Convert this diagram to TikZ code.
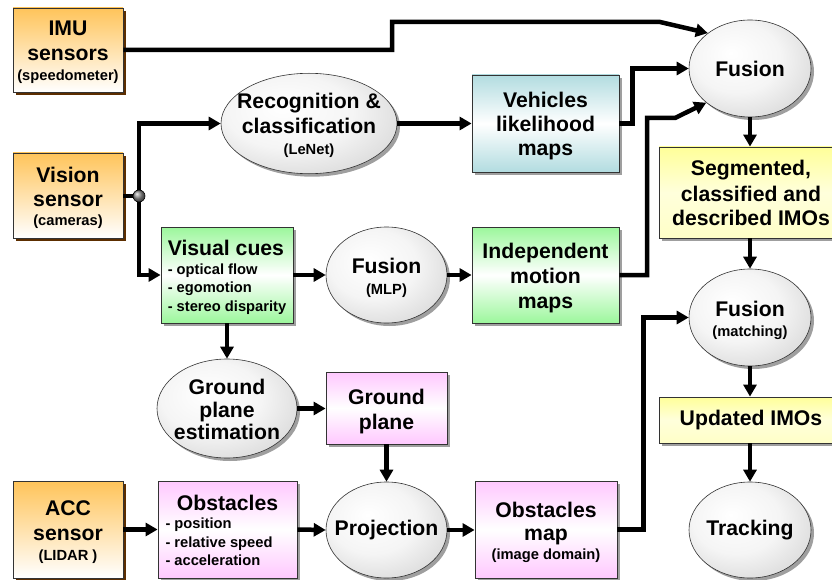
\documentclass[tikz,border=0pt]{standalone}
\usepackage{fontspec}
\setmainfont{Liberation Sans}
\usetikzlibrary{shapes.geometric,shadows,arrows.meta}
\definecolor{orng}{HTML}{FFC45A}
\definecolor{brn}{HTML}{5C2E00}
\definecolor{tealc}{HTML}{B2DCE0}
\definecolor{grnc}{HTML}{9CF79C}
\definecolor{pnkc}{HTML}{FFC8FF}
\definecolor{ylwc}{HTML}{FFFF99}
\definecolor{bordc}{HTML}{333333}
\pgfdeclareradialshading{ellsh}{\pgfpoint{-8bp}{8bp}}{%
  color(0bp)=(white); color(18bp)=(white!96!black); color(38bp)=(white!82!black);
  color(52bp)=(white!70!black); color(60bp)=(white!65!black)}
\newcommand\bigf{\fontsize{21.2}{25}\selectfont\bfseries}
\newcommand\smf{\fontsize{14.7}{18.5}\selectfont\bfseries}
\newcommand\zw[1]{\makebox[0pt]{#1}}
\newcommand\dn[1]{\raisebox{-3.5pt}[\height][\depth]{#1}}
\newcommand\tb[1]{\dn{\begin{tabular}{@{}c@{}}#1\end{tabular}}}
\tikzset{
  base/.style={draw=bordc, line width=0.8pt, inner sep=0pt, align=center, font=\bigf},
  gshadow/.style={drop shadow={shadow xshift=3pt,shadow yshift=-3pt,fill=gray!75,opacity=1}},
  sensor/.style={base, rectangle, top color=orng, bottom color=white,
     drop shadow={shadow xshift=3pt,shadow yshift=-3pt,fill=brn,opacity=1}},
  tealbox/.style={base, rectangle, gshadow, top color=tealc, bottom color=tealc, middle color=white},
  grnbox/.style={base, rectangle, gshadow, top color=grnc, bottom color=grnc, middle color=white},
  pnkbox/.style={base, rectangle, gshadow, top color=pnkc, bottom color=pnkc, middle color=white},
  ylwbox/.style={base, rectangle, gshadow, top color=ylwc, bottom color=ylwc!55, middle color=ylwc!35},
  ellnode/.style={base, ellipse, line width=0.6pt, gshadow, shading=ellsh},
  arr/.style={line width=4.5pt, -{Triangle[length=12pt,width=13pt]}},
  conn/.style={line width=4.5pt},
}
\begin{document}
\begin{tikzpicture}[x=1pt,y=-1pt]
\useasboundingbox (0,0) rectangle (832,580);

% sensors
\node[sensor, minimum width=110pt, minimum height=84pt] (imu) at (68,50)
  {\tb{IMU\\ sensors\\[-5pt] \smf (speedometer)}};
\node[sensor, minimum width=110pt, minimum height=85pt] (vis) at (68,195.5)
  {\tb{Vision\\ sensor\\[-6pt] \smf (cameras)}};
\node[sensor, minimum width=110pt, minimum height=97pt] (acc) at (68,529.5)
  {\tb{ACC\\ sensor\\[-5pt] \smf (LIDAR )}};

% upper row
\node[ellnode, minimum width=176pt, minimum height=97pt] (rec) at (309,123.5)
  {\zw{\tb{Recognition \&\\ classification\\[-4pt] \smf (LeNet)}}};
\node[tealbox, minimum width=147pt, minimum height=97pt] (veh) at (545.5,123.5)
  {\tb{Vehicles\\[-1pt] likelihood\\[-1pt] maps}};
\node[ellnode, minimum width=122pt, minimum height=97pt] (fus1) at (750,68.5)
  {\zw{Fusion}};
\node[ylwbox, minimum width=184pt, minimum height=91pt] (seg) at (751,192.5)
  {\tb{Segmented,\\ classified and\\ described IMOs}};

% middle row
\node[grnbox, minimum width=132pt, minimum height=96pt] (vc) at (227,275)
  {\smf\dn{\begin{tabular}{@{}l@{}}\bigf Visual cues\\ - optical flow\\ - egomotion\\ - stereo disparity\end{tabular}}};
\node[ellnode, minimum width=121pt, minimum height=96pt] (mlp) at (386.5,275)
  {\zw{\tb{Fusion\\[-4pt] \smf (MLP)}}};
\node[grnbox, minimum width=147pt, minimum height=96pt] (ind) at (545.5,275)
  {\tb{Independent\\ motion\\ maps}};
\node[ellnode, minimum width=122pt, minimum height=97pt] (fm) at (750,317.5)
  {\zw{\tb{Fusion\\[-5pt] \smf (matching)}}};

% lower rows
\node[ellnode, minimum width=140pt, minimum height=97pt] (gpe) at (227,408.5)
  {\zw{\tb{Ground\\[-2.5pt] plane\\[-2.5pt] estimation}}};
\node[pnkbox, minimum width=121pt, minimum height=72pt] (gp) at (386.5,408)
  {\tb{Ground\\ plane}};
\node[ylwbox, minimum width=184pt, minimum height=46pt] (upd) at (751,420)
  {Updated IMOs};
\node[pnkbox, minimum width=139pt, minimum height=97pt] (obs) at (227.5,529.5)
  {\smf\dn{\begin{tabular}{@{}p{124pt}@{}}\multicolumn{1}{@{}c@{}}{\bigf Obstacles}\\ - position\\ - relative speed\\ - acceleration\end{tabular}}};
\node[ellnode, minimum width=121pt, minimum height=96pt] (proj) at (386.5,530)
  {\zw{Projection}};
\node[pnkbox, minimum width=142pt, minimum height=97pt] (om) at (546,529.5)
  {\tb{Obstacles\\[-2pt] map\\[-6pt] \smf (image domain)}};
\node[ellnode, minimum width=122pt, minimum height=96pt] (trk) at (750,530)
  {\zw{Tracking}};

% split point
\coordinate (splitc) at (139,196);

% connectors
\draw[arr] (imu.east) -- (392,50) -- (392,22) -- (660,22) -- (fus1.140);
\draw[conn] (vis.east |- splitc) -- (splitc);
\draw[arr] (splitc) |- (rec.west);
\draw[arr] (splitc) |- (vc.west);
\draw[arr] (rec.east) -- (veh.west);
\draw[arr] (veh.east) -- ++(13,0) |- (fus1.west);
\draw[arr] (ind.east) -| (647,118) -- (675,118) -- (fus1.218);
\draw[arr] (vc.east) -- (mlp.west);
\draw[arr] (mlp.east) -- (ind.west);
\draw[arr] (vc.south) -- (gpe.north);
\draw[arr] (gpe.east) -- (gp.west |- gpe.east);
\draw[arr] (gp.south) -- (proj.north);
\draw[arr] (acc.east) -- (obs.west);
\draw[arr] (obs.east) -- (proj.west);
\draw[arr] (proj.east) -- (om.west |- proj.east);
\draw[arr] (om.east) -- ++(26,0) |- (fm.west);
\draw[arr] (fus1.south) -- (fus1.south |- seg.north);
\draw[arr] (fm.north |- seg.south) -- (fm.north);
\draw[arr] (fm.south) -- (fm.south |- upd.north);
\draw[arr] (trk.north |- upd.south) -- (trk.north);

\node[circle, draw=black, line width=0.6pt, minimum size=12pt, inner sep=0pt,
  ball color=gray!90] (split) at (splitc) {};
\end{tikzpicture}
\end{document}
